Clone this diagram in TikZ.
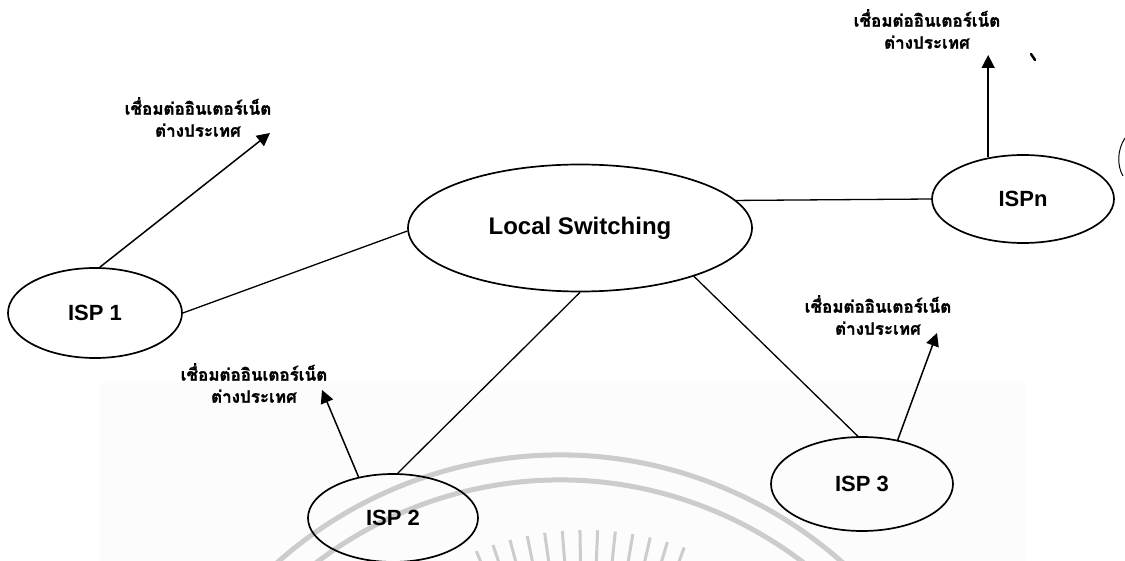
\documentclass[tikz,border=0pt]{standalone}
\usepackage{fontspec}
\setmainfont{Liberation Sans}
\newfontfamily\thaifont[Script=Thai, BoldFeatures={FakeBold=1.5}]{Loma}
\usetikzlibrary{shapes.geometric,arrows.meta}

\begin{document}
\begin{tikzpicture}[x=1pt,y=-1pt,
  isp/.style={draw, ellipse, line width=1.7pt, inner sep=0pt,
    font=\bfseries\fontsize{22}{26}\selectfont},
  link/.style={line width=1.3pt},
  uplink/.style={line width=1.5pt, -{Triangle[length=13pt,width=13pt]}},
  note/.style={align=center, inner sep=0pt,
    font=\thaifont\bfseries\fontsize{17}{22}\selectfont},
  wm/.style={draw=black!20, line width=5pt}]
\useasboundingbox (0,0) rectangle (1125,561);

% faint scanned backdrop with the seal in the lower half
\begin{scope}
  \clip (0,0) rectangle (1125,561);
  \fill[black!1.2] (100,383) rectangle (1025,561);
  \draw[wm] ([shift={(560,880)}]205:425) arc[start angle=205, end angle=335, radius=425];
  \draw[wm] ([shift={(560,880)}]205:400) arc[start angle=205, end angle=335, radius=400];
  \foreach \a in {248,251.5,...,292}
    \draw[draw=black!20, line width=3pt]
      ([shift={(585,820)}]\a:245) -- ([shift={(585,820)}]\a:290);
\end{scope}

% switching hub and providers
\node[isp, minimum width=344pt, minimum height=127pt,
  font=\bfseries\fontsize{24}{28}\selectfont] (ls) at (580,228) {Local Switching};
\node[isp, minimum width=182pt, minimum height=88pt]  (ispn) at (1023,199) {ISPn};
\node[isp, minimum width=174pt, minimum height=90pt]  (isp1) at (95,313)  {ISP 1};
\node[isp, minimum width=170pt, minimum height=88pt]  (isp2) at (393,518) {ISP 2};
\node[isp, minimum width=182pt, minimum height=94pt]  (isp3) at (862,484) {ISP 3};

% links to the local switch
\draw[link] (isp1.east) -- (ls.181);
\draw[link] (isp2.84) -- (ls.south);
\draw[link] (ls.-23) -- (isp3.95);
\draw[link] (ls.10) -- (ispn.west);

% international uplinks
\coordinate (t1) at (270,133);
\coordinate (t2) at (322,390);
\coordinate (t3) at (937,333);
\coordinate (tn) at (988,55);
\draw[uplink] (isp1.84) -- (t1);
\draw[uplink] (isp2.130) -- (t2);
\draw[uplink] (isp3.51) -- (t3);
\draw[uplink] (ispn.130) -- (ispn.130 |- tn);

\node[note] (n1) at (198,117) {เชื่อมต่ออินเตอร์เน็ต\\ต่างประเทศ};
\node[note] (n2) at (254,383) {เชื่อมต่ออินเตอร์เน็ต\\ต่างประเทศ};
\node[note] (n3) at (878,315) {เชื่อมต่ออินเตอร์เน็ต\\ต่างประเทศ};
\node[note] (nn) at (927,29)  {เชื่อมต่ออินเตอร์เน็ต\\ต่างประเทศ};

% stray marks near the upper right
\draw[line width=2.5pt, line cap=round] (1031,54) -- (1035,60);
\draw[line width=1pt] (1125,138) .. controls (1117,150) and (1117,166) .. (1123,176);
\end{tikzpicture}
\end{document}
